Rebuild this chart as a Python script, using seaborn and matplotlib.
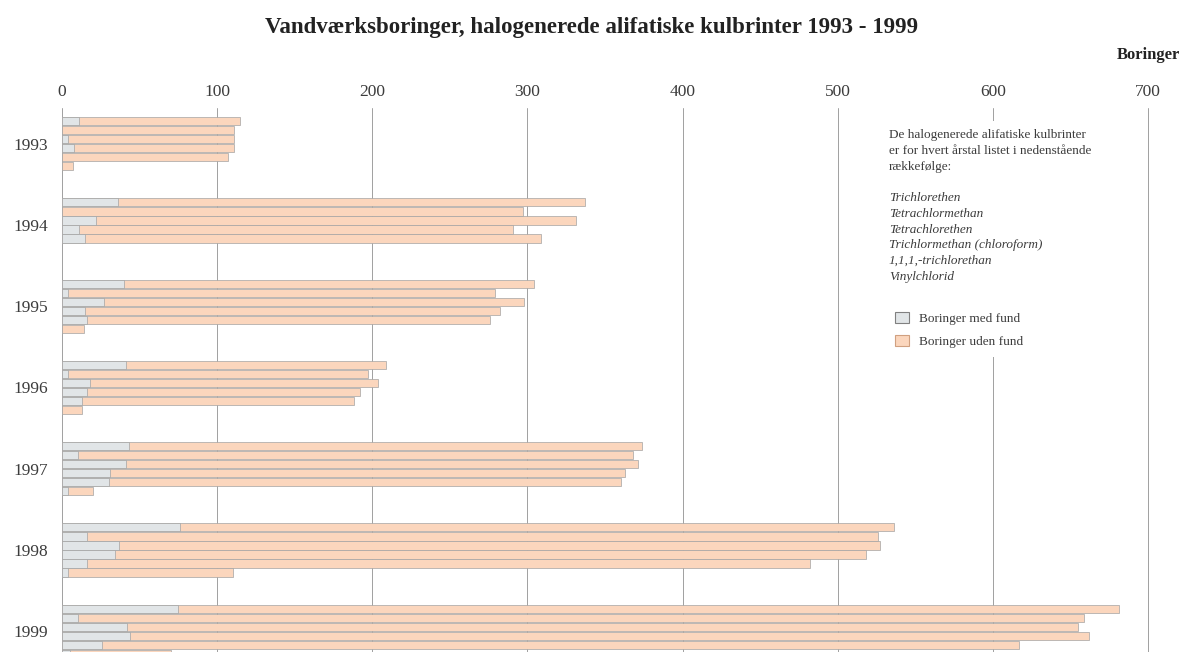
import numpy as np
import pandas as pd
import matplotlib
matplotlib.use("Agg")
import matplotlib.pyplot as plt
from matplotlib.patches import Patch, Rectangle
import seaborn as sns

# --- data ---
years = [1993, 1994, 1995, 1996, 1997, 1998, 1999]
compounds = ["Trichlorethen", "Tetrachlormethan", "Tetrachlorethen",
             "Trichlormethan (chloroform)", "1,1,1,-trichlorethan", "Vinylchlorid"]

# boringer med fund (grey part), per year, compounds in the order above
med_fund = [
    [11, 0, 4, 8, 0, 0],
    [36, 0, 22, 11, 15, np.nan],
    [40, 4, 27, 15, 16, 0],
    [41, 4, 18, 16, 13, 0],
    [43, 10, 41, 31, 30, 4],
    [76, 16, 37, 34, 16, 4],
    [75, 10, 42, 44, 26, 5],
]
# total number of analysed boringer (med + uden fund)
total = [
    [115, 111, 111, 111, 107, 7],
    [337, 297, 331, 291, 309, np.nan],
    [304, 279, 298, 282, 276, 14],
    [209, 197, 204, 192, 188, 13],
    [374, 368, 371, 363, 360, 20],
    [536, 526, 527, 518, 482, 110],
    [681, 659, 655, 662, 617, 70],
]
x_ticks = [0, 100, 200, 300, 400, 500, 600, 700]

# --- styling ---
sns.set_style("white")
plt.rcParams["font.family"] = ["Liberation Serif", "DejaVu Serif"]
ORANGE = "#fbd6bd"
GREY = "#e1e5e7"
EDGE = "#a3a3a3"
TXT = "#3c3c3c"

# --- long table, one row per bar ---
slots = 9  # 6 bars + gap per year
rows = []
for g, year in enumerate(years):
    for i, comp in enumerate(compounds):
        if np.isnan(total[g][i]):
            continue
        rows.append({"year": year, "compound": comp, "pos": g * slots + i,
                     "med": med_fund[g][i], "total": total[g][i]})
df = pd.DataFrame(rows)

fig = plt.figure(figsize=(11.84, 6.52), dpi=100)
W, H = 1184, 652
x0_px, top_px = 62, 108
ax = fig.add_axes([x0_px / W, 0, 1 - x0_px / W, (H - top_px) / H])

sns.barplot(data=df, x="total", y="pos", orient="y", native_scale=True,
            color=ORANGE, saturation=1, edgecolor=EDGE, linewidth=0.5,
            width=0.9, errorbar=None, ax=ax)
sns.barplot(data=df[df["med"] > 0], x="med", y="pos", orient="y", native_scale=True,
            color=GREY, saturation=1, edgecolor=EDGE, linewidth=0.5,
            width=0.9, errorbar=None, ax=ax)

px_per_unit = (1148 - 62) / 700
ax.set_xlim(0, (W - x0_px) / px_per_unit)
ax.set_ylim(58.8, -1.46)

ax.set_xticks(x_ticks)
ax.set_xticklabels([str(t) for t in x_ticks])
ax.xaxis.tick_top()
ax.tick_params(axis="x", length=0, pad=6, labelsize=12.5, labelcolor=TXT)
ax.set_yticks([g * slots + 2.5 for g in range(len(years))])
ax.set_yticklabels([str(y) for y in years])
ax.tick_params(axis="y", length=0, pad=10, labelsize=12.5, labelcolor=TXT)
ax.set_xlabel("")
ax.set_ylabel("")
for s in ax.spines.values():
    s.set_visible(False)
ax.set_axisbelow(True)
ax.grid(axis="x", color="#a0a0a0", linewidth=0.7)
ax.grid(axis="y", visible=False)

# white panel behind the note (cuts the 600 gridline)
ax.add_patch(Rectangle((0.729, 0.542), 0.223, 0.434, transform=ax.transAxes,
                       facecolor="white", edgecolor="none", zorder=1))

# --- texts ---
fig.text(0.5, 1 - 28 / H, "Vandværksboringer, halogenerede alifatiske kulbrinter 1993 - 1999",
         ha="center", va="center", fontsize=16.5, fontweight="bold", color="#222222")
fig.text(1180 / W, 1 - 55 / H, "Boringer", ha="right", va="center",
         fontsize=12, fontweight="bold", color="#222222")

note_x = 889 / W
intro = ["De halogenerede alifatiske kulbrinter",
         "er for hvert årstal listet i nedenstående",
         "rækkefølge:"]
for k, line in enumerate(intro):
    fig.text(note_x, 1 - (135 + 16 * k) / H, line, ha="left", va="center",
             fontsize=9.5, color=TXT)
for k, comp in enumerate(compounds):
    fig.text(note_x, 1 - (198 + 15.8 * k) / H, comp, ha="left", va="center",
             fontsize=9.5, color=TXT, style="italic")

handles = [Patch(facecolor=GREY, edgecolor="#808080", linewidth=0.8, label="Boringer med fund"),
           Patch(facecolor=ORANGE, edgecolor="#d0a080", linewidth=0.8, label="Boringer uden fund")]
fig.legend(handles=handles, loc="upper left", bbox_to_anchor=(883 / W, 1 - 300 / H),
           frameon=False, fontsize=9.5, handlelength=1.1, handleheight=0.9,
           handletextpad=0.7, labelspacing=0.75, labelcolor=TXT)

fig.savefig("out.png", dpi=100)
